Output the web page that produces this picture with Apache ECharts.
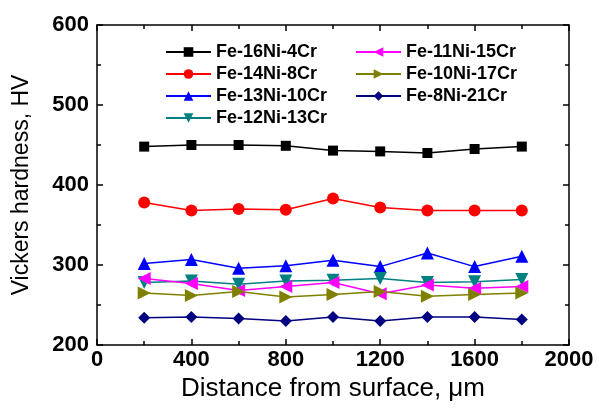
<!DOCTYPE html>
<html>
<head>
<meta charset="utf-8">
<script src="https://cdn.jsdelivr.net/npm/echarts@6/dist/echarts.min.js"></script>
<style>
  html, body { margin: 0; padding: 0; background: #fff; }
  #chart { width: 598px; height: 410px; }
</style>
</head>
<body>
<div id="chart"></div>
<script>
// Vickers hardness profiles versus depth for seven Fe-Ni-Cr alloys
const distances = [200, 400, 600, 800, 1000, 1200, 1400, 1600, 1800];

const seriesNames = [
  'Fe-16Ni-4Cr', 'Fe-14Ni-8Cr', 'Fe-13Ni-10Cr', 'Fe-12Ni-13Cr',
  'Fe-11Ni-15Cr', 'Fe-10Ni-17Cr', 'Fe-8Ni-21Cr'
];

const fe16ni4cr  = [448, 450, 450, 449, 443, 442, 440, 445, 448];
const fe14ni8cr  = [378, 368, 370, 369, 383, 372, 368, 368, 368];
const fe13ni10cr = [302, 307, 296, 299, 306, 298, 315, 298, 311];
const fe12ni13cr = [278, 280, 276, 280, 281, 283, 278, 279, 282];
const fe11ni15cr = [283, 277, 268, 273, 278, 264, 275, 271, 273];
const fe10ni17cr = [265, 262, 267, 260, 263, 267, 261, 263, 265];
const fe8ni21cr  = [234, 235, 233, 230, 235, 230, 235, 235, 232];

const xTicks = { min: 0, max: 2000, interval: 400 };
const yTicks = { min: 200, max: 600, interval: 100 };

const styles = [
  { color: '#000000', symbol: 'rect',     size: 10, rotate: 0 },
  { color: '#ff0000', symbol: 'circle',   size: 12, rotate: 0 },
  { color: '#0000ff', symbol: 'triangle', size: 13, rotate: 0 },
  { color: '#008080', symbol: 'triangle', size: 13, rotate: 180 },
  { color: '#ff00ff', symbol: 'triangle', size: 13, rotate: 90 },
  { color: '#808000', symbol: 'triangle', size: 13, rotate: -90 },
  { color: '#000080', symbol: 'diamond',  size: 12, rotate: 0 }
];

const values = [fe16ni4cr, fe14ni8cr, fe13ni10cr, fe12ni13cr, fe11ni15cr, fe10ni17cr, fe8ni21cr];

const fontFamily = '"Liberation Sans", Arial, sans-serif';

const series = values.map((vals, i) => ({
  name: seriesNames[i],
  type: 'line',
  data: distances.map((d, j) => [d, vals[j]]),
  symbol: styles[i].symbol,
  symbolSize: styles[i].size,
  symbolRotate: styles[i].rotate,
  showAllSymbol: true,
  lineStyle: { color: styles[i].color, width: 1.5 },
  itemStyle: { color: styles[i].color },
  emphasis: { disabled: true },
  z: 3
}));

const legendText = { fontFamily, fontSize: 18, fontWeight: 'bold', color: '#000' };

function axisCommon(extra) {
  return Object.assign({
    type: 'value',
    axisLine: { show: true, onZero: false, lineStyle: { color: '#000', width: 1.5 } },
    axisTick: { show: true, inside: true, length: 6, lineStyle: { color: '#000', width: 1.5 } },
    minorTick: { show: true, splitNumber: 2, length: 4, lineStyle: { color: '#000', width: 1.5 } },
    splitLine: { show: false }
  }, extra);
}

const tickLabel = {
  fontFamily, fontSize: 22, fontWeight: 'bold', color: '#000',
  formatter: (v) => String(v)
};

const option = {
  animation: false,
  backgroundColor: '#fff',
  grid: { left: 97, right: 29, top: 25, bottom: 65, containLabel: false },
  legend: [
    {
      data: seriesNames.slice(0, 4),
      orient: 'vertical',
      left: 160, top: 38,
      itemWidth: 45, itemHeight: 12, itemGap: 4,
      textStyle: legendText,
      selectedMode: false
    },
    {
      data: seriesNames.slice(4),
      orient: 'vertical',
      left: 350, top: 38,
      itemWidth: 45, itemHeight: 12, itemGap: 4,
      textStyle: legendText,
      selectedMode: false
    }
  ],
  xAxis: [
    axisCommon({
      position: 'bottom',
      min: xTicks.min, max: xTicks.max, interval: xTicks.interval,
      name: 'Distance from surface, \u03bcm',
      nameLocation: 'middle', nameGap: 31,
      nameTextStyle: { fontFamily, fontSize: 26, color: '#000' },
      axisLabel: Object.assign({ margin: 4 }, tickLabel)
    }),
    axisCommon({
      position: 'top',
      min: xTicks.min, max: xTicks.max, interval: xTicks.interval,
      axisLabel: { show: false }
    })
  ],
  yAxis: [
    axisCommon({
      position: 'left',
      min: yTicks.min, max: yTicks.max, interval: yTicks.interval,
      name: 'Vickers hardness, HV',
      nameLocation: 'middle', nameGap: 64,
      nameTextStyle: { fontFamily, fontSize: 23, color: '#000' },
      axisLabel: Object.assign({ margin: 8 }, tickLabel)
    }),
    axisCommon({
      position: 'right',
      min: yTicks.min, max: yTicks.max, interval: yTicks.interval,
      axisLabel: { show: false }
    })
  ],
  series
};

const chart = echarts.init(document.getElementById('chart'), null, { renderer: 'canvas' });
chart.setOption(option);
</script>
</body>
</html>
